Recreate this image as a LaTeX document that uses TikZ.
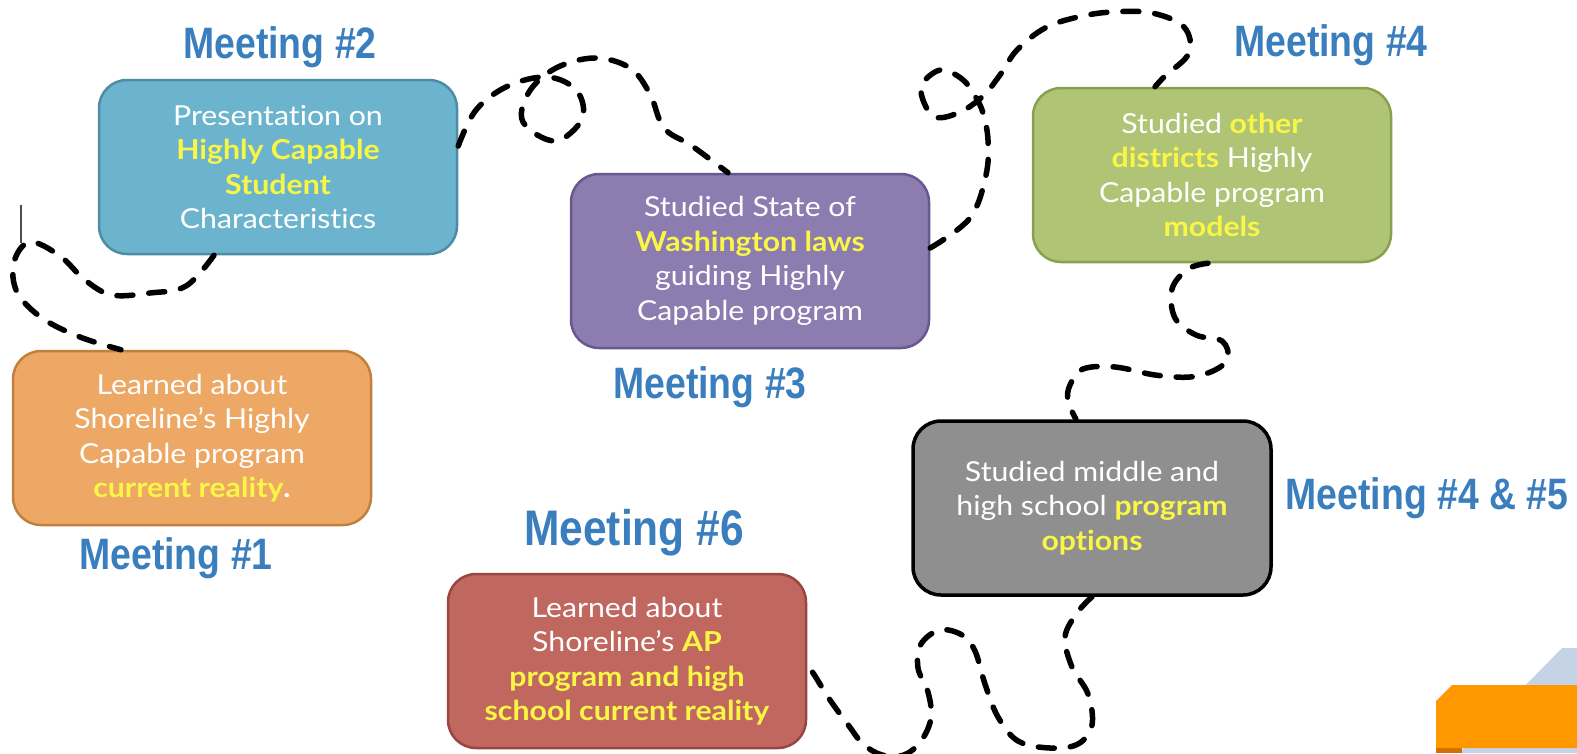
\documentclass[tikz,border=0pt]{standalone}
\usepackage{fontspec}
\setmainfont{Lato}[FakeStretch=1.1, Ligatures=CommonOff]
\newfontfamily\headfont[FakeStretch=0.85]{Liberation Sans}
\usetikzlibrary{calc}
\definecolor{hy}{RGB}{250,246,70}
\definecolor{headblue}{RGB}{58,126,190}
\definecolor{bluefill}{RGB}{108,180,205}
\definecolor{blueline}{RGB}{78,140,165}
\definecolor{purfill}{RGB}{140,124,176}
\definecolor{purline}{RGB}{104,88,142}
\definecolor{grnfill}{RGB}{176,196,118}
\definecolor{grnline}{RGB}{136,160,80}
\definecolor{orgfill}{RGB}{237,168,102}
\definecolor{orgline}{RGB}{194,128,62}
\definecolor{gryfill}{RGB}{143,143,143}
\definecolor{redfill}{RGB}{192,103,95}
\definecolor{redline}{RGB}{152,70,64}
\definecolor{cornblue}{RGB}{197,211,230}
\definecolor{cornorange}{RGB}{255,152,0}
\definecolor{corndark}{RGB}{208,112,0}
\newcommand\hl[1]{\textcolor{hy}{\bfseries #1}}
\begin{document}
\begin{tikzpicture}[x=1pt,y=-1pt,
  box/.style={rounded corners=28pt, line width=2.5pt, minimum width=358pt,
    minimum height=174pt, align=center, text=white, inner sep=0pt,
    font=\fontsize{27.5}{34.5}\selectfont},
  meet/.style={text=headblue, inner sep=0pt, font=\headfont\bfseries\fontsize{44}{44}\selectfont},
  trail/.style={line width=5.5pt, dash pattern=on 16pt off 16pt, line cap=round}]
\useasboundingbox (0,0) rectangle (1577,753);
\clip (0,0) rectangle (1577,753);

% corner decoration
\fill[cornblue] (1459,753) -- (1562,648) -- (1577,648) -- (1577,753) -- cycle;
\fill[corndark] (1436,748) rectangle (1462,753);
\fill[cornorange] (1436,748) -- (1436,701) -- (1452,685) -- (1577,685) -- (1577,748) -- cycle;

% boxes
\node[box, draw=blueline, fill=bluefill] (blue) at (278,167)
  {Presentation on\\ \hl{Highly Capable}\\ \hl{Student}\\ Characteristics};
\node[box, draw=purline, fill=purfill] (purple) at (750,261)
  {Studied State of\\ \hl{Washington laws}\\ guiding Highly\\ Capable program};
\node[box, draw=grnline, fill=grnfill] (green) at (1212,175)
  {Studied \hl{other}\\ \hl{districts} Highly\\ Capable program\\ \hl{models}};
\node[box, draw=orgline, fill=orgfill] (orange) at (192,438)
  {Learned about\\ Shoreline’s Highly\\ Capable program\\ \hl{current reality}\textbf{.}};
\node[box, draw=black, line width=3.5pt, fill=gryfill] (gray) at (1092,508)
  {Studied middle and\\ high school \hl{program}\\ \hl{options}};
\node[box, draw=redline, fill=redfill] (red) at (627,661)
  {Learned about\\ Shoreline’s \hl{AP}\\ \hl{program and high}\\ \hl{school current reality}};

% headings
\node[meet] (m2) at (280,47) {Meeting \#2};
\node[meet] (m3) at (710,387) {Meeting \#3};
\node[meet] (m4) at (1331,45) {Meeting \#4};
\node[meet] (m45) at (1427,498) {Meeting \#4 \& \#5};
\node[meet, font=\headfont\bfseries\fontsize{50}{50}\selectfont] (m6) at (634,533) {Meeting \#6};
\node[meet] (m1) at (176,558) {Meeting \#1};

% small mark
\draw[black!70, line width=1.2pt] (21,205) -- (21,243);

% trails
\draw[trail] plot[smooth, tension=0.6] coordinates {
  ([xshift=-64pt]blue.south) (186,286) (150,293) (112,295) (85,280) (60,256)
  (30,242) (14,262) (17,292) (42,318) (80,337) ([xshift=-71pt]orange.north)};
\draw[trail] plot[smooth, tension=0.6] coordinates {
  ([yshift=21pt]blue.east) (476,110) (508,86) (548,77) (577,91) (582,119)
  (555,141) (523,122) (529,92) (556,68) (595,58) (630,68) (650,94) (664,128)
  (692,146) ([xshift=-22pt]purple.north)};
\draw[trail] plot[smooth, tension=0.6] coordinates {
  ([yshift=13pt]purple.east) (970,218) (986,175) (988,140) (983,113) (975,96)
  (962,79) (940,70) (921,88) (933,116) (958,113) (982,97) (1000,75) (1017,50)
  (1045,28) (1078,17) (1112,12) (1152,13) (1184,27) (1189,53) (1165,76)
  ([xshift=-57pt]green.north)};
\draw[trail] plot[smooth, tension=0.6] coordinates {
  ([xshift=-4pt]green.south) (1188,269) (1172,289) (1175,318) (1196,335)
  (1222,341) (1228,358) (1215,370) (1190,377) (1155,375) (1115,367) (1083,369)
  (1070,385) (1068,401) ([xshift=-16pt]gray.north)};
\draw[trail] plot[smooth, tension=0.6] coordinates {
  (gray.south) (1077,613) (1065,637) (1072,667) (1088,694) (1092,725)
  (1078,744) (1050,748) (1018,741) (998,717) (985,684) (975,651) (962,635)
  (940,630) (921,644) (918,668) (928,692) (931,718) (921,741) (904,755)
  (882,755) (863,744) (849,726) (830,700) (815,676) ([yshift=-3pt]red.east)};
\end{tikzpicture}
\end{document}
